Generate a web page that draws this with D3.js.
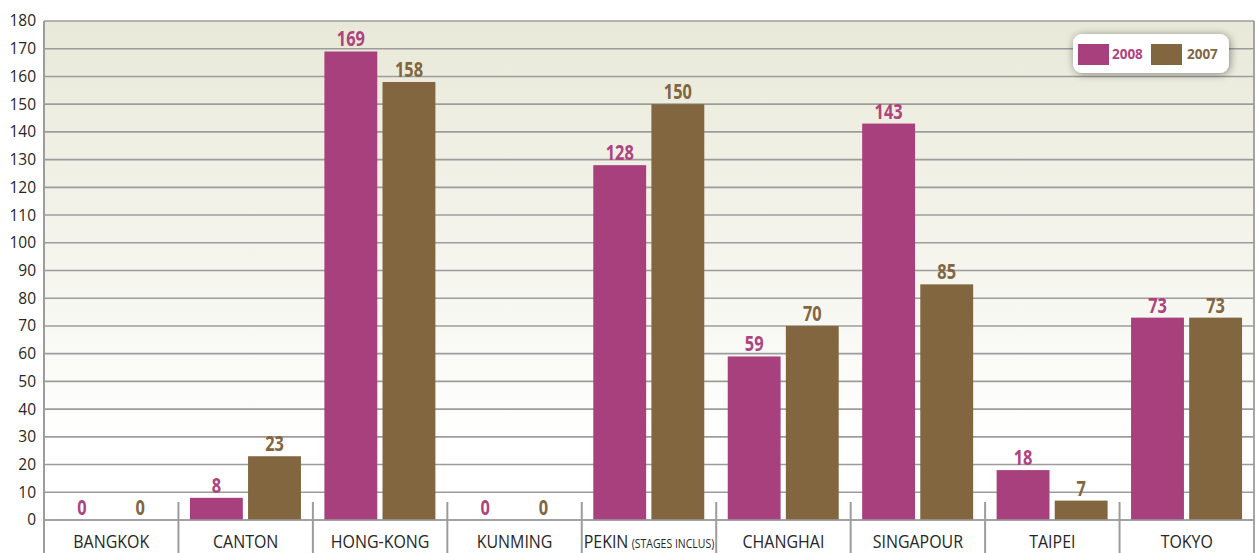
<!DOCTYPE html>
<html><head><meta charset="utf-8">
<script src="https://cdn.jsdelivr.net/npm/d3@7"></script>
<style>
html,body{margin:0;padding:0;background:#fff;}
svg{display:block;}
text{font-family:"Open Sans","Noto Sans",Arial,sans-serif;}
</style></head>
<body>
<svg id="chart" width="1258" height="553"></svg>
<script>
const categories = ["BANGKOK","CANTON","HONG-KONG","KUNMING","PEKIN","CHANGHAI","SINGAPOUR","TAIPEI","TOKYO"];
const categorySuffix = ["","","","","(STAGES INCLUS)","","","",""];
const seriesNames = ["2008","2007"];
const values2008 = [0,8,169,0,128,59,143,18,73];
const values2007 = [0,23,158,0,150,70,85,7,73];
const yTicks = [0,10,20,30,40,50,60,70,80,90,100,110,120,130,140,150,160,170,180];

(function(){
const colors = {"2008":"#A9407E","2007":"#82663F"};
const labelColors = {"2008":"#AE437F","2007":"#82663F"};

const W=1258,H=553;
const pLeft=44,pRight=1254,pTop=21,zeroY=520;
const svg=d3.select("#chart");

const y=d3.scaleLinear().domain([0,180]).range([zeroY,pTop]);
const x=d3.scaleBand().domain(categories).range([pLeft,pRight]).padding(0);
const xs=d3.scaleBand().domain(seriesNames).range([11.5,122.5]).paddingInner(0.09);

// background gradient
const defs=svg.append("defs");
const g=defs.append("linearGradient").attr("id","bg").attr("x1",0).attr("y1",0).attr("x2",0).attr("y2",1);
g.append("stop").attr("offset","0%").attr("stop-color","#E9E9D9");
g.append("stop").attr("offset","45%").attr("stop-color","#F4F4EC");
g.append("stop").attr("offset","85%").attr("stop-color","#FFFFFF");
g.append("stop").attr("offset","100%").attr("stop-color","#FFFFFF");
svg.append("rect").attr("x",pLeft).attr("y",pTop).attr("width",pRight-pLeft).attr("height",zeroY-pTop).attr("fill","url(#bg)");

// shadow filter
const f=defs.append("filter").attr("id","sh").attr("x","-20%").attr("y","-40%").attr("width","140%").attr("height","180%");
f.append("feGaussianBlur").attr("in","SourceAlpha").attr("stdDeviation",4).attr("result","b");
f.append("feOffset").attr("in","b").attr("dx",1).attr("dy",1).attr("result","o");
f.append("feComponentTransfer").attr("in","o").attr("result","o2").append("feFuncA").attr("type","linear").attr("slope",0.45);
const fm=f.append("feMerge");
fm.append("feMergeNode").attr("in","o2");
fm.append("feMergeNode").attr("in","SourceGraphic");

// gridlines
svg.append("g").selectAll("line").data(yTicks).join("line")
  .attr("x1",pLeft).attr("x2",pRight)
  .attr("y1",d=>y(d)).attr("y2",d=>y(d))
  .attr("stroke","#9C9C9C").attr("stroke-width",1.6);

// right border
svg.append("line").attr("x1",pRight).attr("x2",pRight).attr("y1",pTop).attr("y2",H)
  .attr("stroke","#9C9C9C").attr("stroke-width",1.8);

// y axis labels
const yAxis=d3.axisLeft(y).tickValues(yTicks).tickSize(0).tickPadding(8);
const ya=svg.append("g").attr("transform",`translate(${pLeft},0)`).call(yAxis);
ya.select(".domain").remove();
ya.selectAll("text").attr("font-size",15.5).attr("fill","#262626")
  .style("font-family",'"Open Sans","Noto Sans",Arial,sans-serif');

// left axis line
svg.append("line").attr("x1",pLeft).attr("x2",pLeft).attr("y1",pTop).attr("y2",H)
  .attr("stroke","#9C9C9C").attr("stroke-width",2);

// category separators
svg.append("g").selectAll("line").data(categories.slice(1)).join("line")
  .attr("x1",d=>x(d)).attr("x2",d=>x(d)).attr("y1",502).attr("y2",H)
  .attr("stroke","#9C9C9C").attr("stroke-width",2);

// bars
const data=categories.map((c,i)=>({c,vals:[{s:"2008",v:values2008[i]},{s:"2007",v:values2007[i]}]}));
const cg=svg.append("g").selectAll("g").data(data).join("g")
  .attr("transform",d=>`translate(${x(d.c)},0)`);
cg.selectAll("rect").data(d=>d.vals).join("rect")
  .attr("x",d=>xs(d.s)).attr("width",xs.bandwidth())
  .attr("y",d=>y(d.v)).attr("height",d=>zeroY-y(d.v))
  .attr("fill",d=>colors[d.s]);
cg.selectAll("text.val").data(d=>d.vals).join("text").attr("class","val")
  .attr("transform",d=>`translate(${xs(d.s)+xs.bandwidth()/2},${y(d.v)-5}) scale(0.78,1)`)
  .attr("text-anchor","middle").attr("font-size",21).attr("font-weight","bold")
  .attr("fill",d=>labelColors[d.s]).text(d=>d.v);

// zero line redraw on top
svg.append("line").attr("x1",pLeft).attr("x2",pRight).attr("y1",zeroY).attr("y2",zeroY)
  .attr("stroke","#9C9C9C").attr("stroke-width",1.6);

// category labels
const cl=svg.append("g").selectAll("text").data(categories).join("text")
  .attr("transform",d=>`translate(${x(d)+x.bandwidth()/2},547.5) scale(0.84,1)`)
  .attr("text-anchor","middle").attr("font-size",19).attr("fill","#262626");
cl.append("tspan").text(d=>d);
cl.filter((d,i)=>categorySuffix[i]).append("tspan").attr("font-size",12.5).attr("dx",4)
  .text((d)=>categorySuffix[categories.indexOf(d)]);

// legend
const lg=svg.append("g");
lg.append("rect").attr("x",1073).attr("y",34).attr("width",156).attr("height",39).attr("rx",9)
  .attr("fill","#fff").attr("filter","url(#sh)");
const lx=[1078,1151];
seriesNames.forEach((s,i)=>{
  lg.append("rect").attr("x",lx[i]).attr("y",44).attr("width",31).attr("height",21).attr("fill",colors[s]);
  lg.append("text").attr("transform",`translate(${lx[i]+(i?36:34)},59) scale(0.9,1)`)
    .attr("font-size",15).attr("font-weight","bold")
    .attr("fill",labelColors[s]).text(s);
});
})();
</script>
</body></html>
